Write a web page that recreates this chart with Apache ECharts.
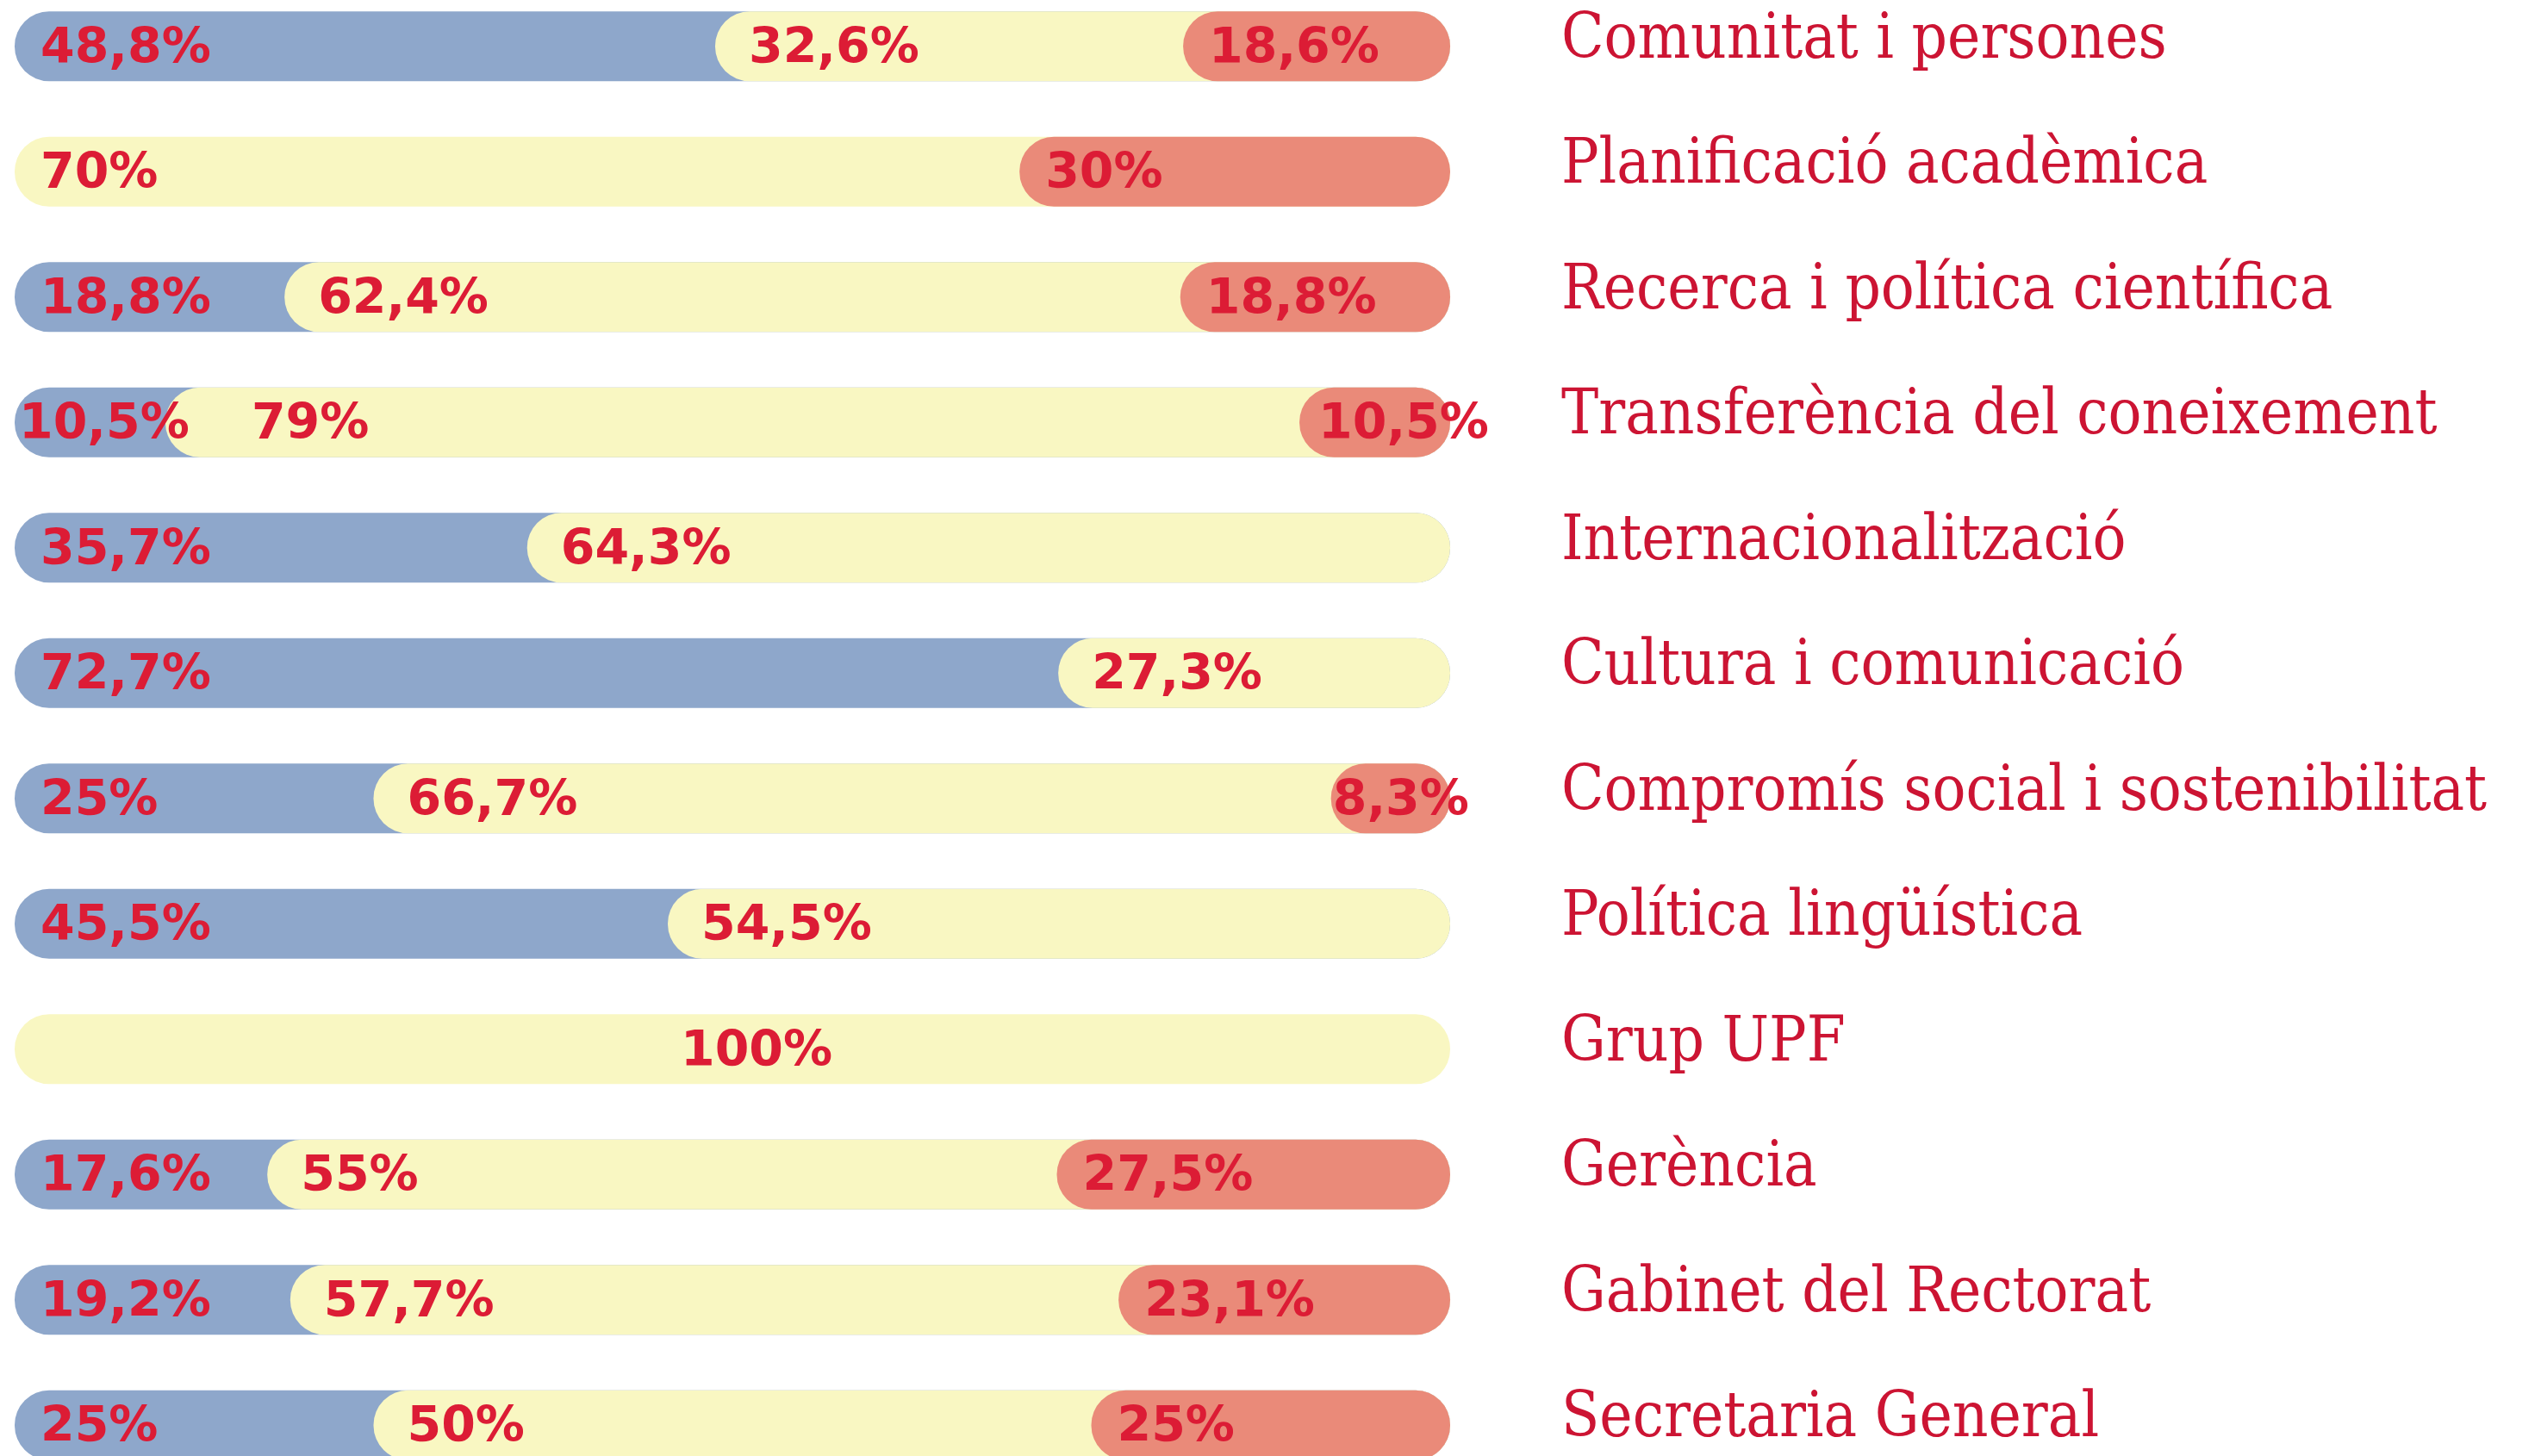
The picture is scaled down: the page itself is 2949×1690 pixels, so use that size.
<!DOCTYPE html>
<html>
<head>
<meta charset="utf-8">
<script src="https://cdn.jsdelivr.net/npm/echarts@6/dist/echarts.min.js"></script>
<style>
html, body { margin: 0; padding: 0; background: #fff; }
#chart { width: 2949px; height: 1690px; }
</style>
</head>
<body>
<div id="chart"></div>
<script>
var categories = ['Comunitat i persones', 'Planificació acadèmica', 'Recerca i política científica',
    'Transferència del coneixement', 'Internacionalització', 'Cultura i comunicació',
    'Compromís social i sostenibilitat', 'Política lingüística', 'Grup UPF', 'Gerència',
    'Gabinet del Rectorat', 'Secretaria General']
var blueShare   = [48.8, 0, 18.8, 10.5, 35.7, 72.7, 25, 45.5, 0, 17.6, 19.2, 25]
var yellowShare = [32.6, 70, 62.4, 79, 64.3, 27.3, 66.7, 54.5, 100, 55, 57.7, 50]
var redShare    = [18.6, 30, 18.8, 10.5, 0, 0, 8.3, 0, 0, 27.5, 23.1, 25]

var layers = [
    { values: blueShare,   color: '#8EA7CB', dist: 30 },
    { values: yellowShare, color: '#F9F7C2', dist: 39 },
    { values: redShare,    color: '#EA8A79', dist: 30 }
]

// labels that sit away from the usual spot (row-layer)
var labelDist = { '1-1': 30, '3-0': 5, '3-1': 100, '3-2': 22, '6-2': 2, '8-1': 773 }

function fmt(v) {
    return String(v).replace('.', ',') + '%'
}

var series = []
layers.forEach(function (layer, k) {
    var offsets = [], spans = []
    for (var i = 0; i < categories.length; i++) {
        var start = 0
        for (var j = 0; j < k; j++) start += layers[j].values[i]
        var v = layer.values[i]
        if (v > 0) {
            offsets.push(start)
            var item = { value: 100 - start, share: v }
            if (labelDist[i + '-' + k] !== undefined) item.label = { distance: labelDist[i + '-' + k] }
            spans.push(item)
        } else {
            offsets.push('-')
            spans.push('-')
        }
    }
    series.push({
        type: 'bar', stack: 's' + k, data: offsets, silent: true,
        barWidth: 81, barGap: '-100%',
        itemStyle: { color: 'rgba(0,0,0,0)' }
    })
    series.push({
        type: 'bar', stack: 's' + k, data: spans,
        barWidth: 81, barGap: '-100%',
        itemStyle: { color: layer.color, borderRadius: 40 },
        label: {
            show: true, position: 'insideLeft', distance: layer.dist, offset: [0, 4],
            formatter: function (p) { return fmt(p.data.share) },
            color: '#DC1C35', fontFamily: 'DejaVu Sans', fontWeight: 'bold', fontSize: 57
        }
    })
})

var chart = echarts.init(document.getElementById('chart'))
chart.setOption({
    animation: false,
    grid: { left: 17, right: 1266, top: -19, bottom: -37, outerBoundsMode: 'none' },
    xAxis: { type: 'value', min: 0, max: 100, show: false },
    yAxis: {
        type: 'category', data: categories, inverse: true, position: 'right',
        axisLine: { show: false }, axisTick: { show: false }, splitLine: { show: false },
        axisLabel: {
            margin: 129, align: 'left', color: '#CC1433', fontSize: 72,
            fontFamily: "'DejaVu Serif Condensed', 'DejaVu Serif'",
            verticalAlign: 'bottom', lineHeight: 11
        }
    },
    series: series
})
</script>
</body>
</html>
